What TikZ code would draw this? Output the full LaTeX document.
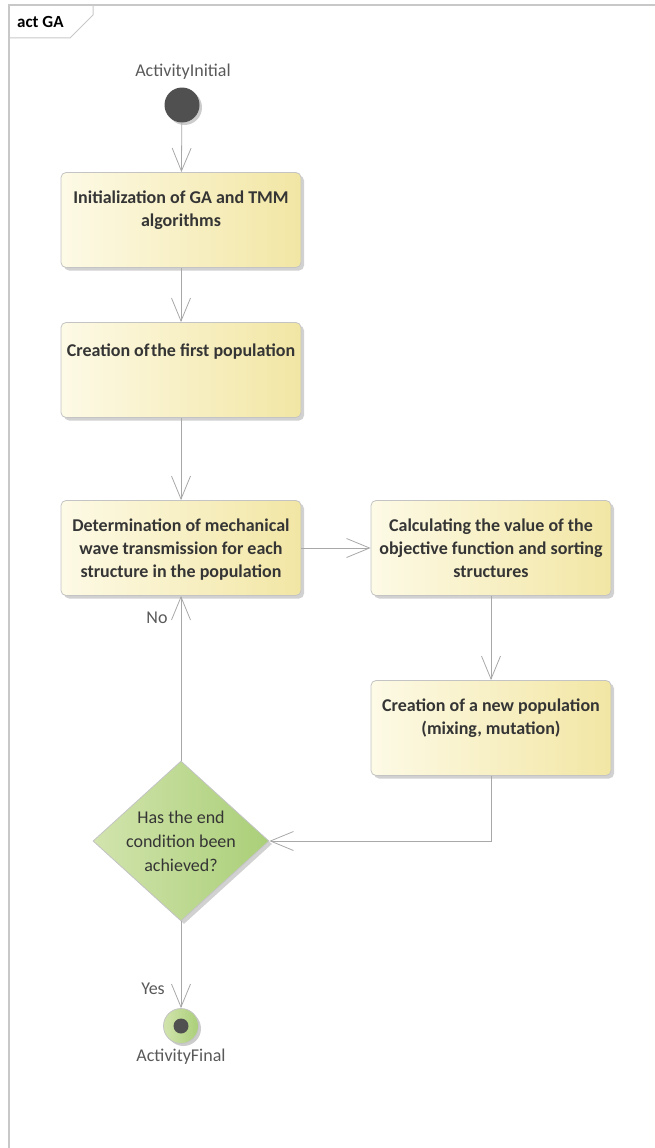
\documentclass[tikz,border=0pt]{standalone}
\usepackage{fontspec}
\setmainfont{Carlito}
\usetikzlibrary{arrows.meta,shapes.geometric,shadows,calc}
\definecolor{txtc}{HTML}{353535}
\definecolor{lblc}{HTML}{595959}
\definecolor{framec}{HTML}{C8C8C8}
\definecolor{boxborder}{HTML}{C4C4C4}
\definecolor{boxl}{HTML}{FDFAE6}
\definecolor{boxr}{HTML}{F2E6A4}
\definecolor{grl}{HTML}{D2E4AD}
\definecolor{grr}{HTML}{AACF78}
\definecolor{linec}{HTML}{A8A8A8}
\definecolor{dotc}{HTML}{505050}
\tikzset{
  actbox/.style={rectangle, rounded corners=5pt, draw=boxborder, line width=0.8pt,
    left color=boxl, right color=boxr, minimum width=240pt, minimum height=95pt,
    inner sep=0pt, drop shadow={shadow xshift=3pt, shadow yshift=-3pt, fill=black, opacity=0.18}},
  boxtxt/.style={font=\bfseries\fontsize{18}{23}\selectfont, text=txtc, align=center, anchor=north, inner sep=0pt},
  lbl/.style={font=\fontsize{18}{21}\selectfont, text=lblc, inner sep=0pt},
  flow/.style={draw=linec, line width=0.8pt, -{Straight Barb[length=23pt,width=19pt,line width=0.8pt]}},
  decision/.style={diamond, draw=boxborder, line width=0.8pt, left color=grl, right color=grr,
    minimum width=176pt, minimum height=160pt, aspect=1.1, inner sep=0pt,
    drop shadow={shadow xshift=3pt, shadow yshift=-3pt, fill=black, opacity=0.18}},
}
\begin{document}
\begin{tikzpicture}[x=1pt,y=-1pt]
\useasboundingbox (0,0) rectangle (655,1148);
% frame
\draw[framec, line width=2pt] (9,1148) -- (9,5) -- (655,5);
\draw[framec, line width=1pt] (9,38) -- (70,38) -- (93,15) -- (93,5);
\node[font=\bfseries\fontsize{17}{20}\selectfont, text=black, anchor=west, inner sep=0pt] (title) at (17,22) {act GA};

% initial
\node[circle, fill=dotc, minimum size=35pt, inner sep=0pt,
  drop shadow={shadow xshift=2.5pt, shadow yshift=-2.5pt, fill=black, opacity=0.2}] (init) at (182,105) {};
\node[lbl] (initlbl) at (183,72) {ActivityInitial};

% boxes
\node[actbox] (b1) at (181,220) {};
\node[boxtxt] (t1) at ($(b1.north)+(0,19)$) {Initialization of GA and TMM\\algorithms};
\node[actbox] (b2) at (181,370) {};
\node[boxtxt] (t2) at ($(b2.north)+(0,22)$) {Creation of\hspace{0.08em}the first population};
\node[actbox] (b3) at (181,548) {};
\node[boxtxt] (t3) at ($(b3.north)+(0,19)$) {Determination of mechanical\\wave transmission for each\\structure in the population};
\node[actbox] (b4) at (491,548) {};
\node[boxtxt] (t4) at ($(b4.north)+(0,19)$) {Calculating the value of the\\objective function and sorting\\structures};
\node[actbox] (b5) at (491,728) {};
\node[boxtxt] (t5) at ($(b5.north)+(0,19)$) {Creation of a new population\\(mixing, mutation)};

% decision
\node[decision] (dec) at (181,841) {};
\node[font=\fontsize{18}{24}\selectfont, text=txtc, align=center, inner sep=0pt] (dectxt) at (181,841) {Has the end\\condition been\\achieved?};

% final
\node[circle, draw=boxborder, line width=0.8pt, left color=grl, right color=grr, minimum size=35pt, inner sep=0pt,
  drop shadow={shadow xshift=2.5pt, shadow yshift=-2.5pt, fill=black, opacity=0.2}] (fin) at (181,1026) {};
\node[circle, fill=dotc, minimum size=15pt, inner sep=0pt] (findot) at (fin.center) {};
\node[lbl] (finlbl) at (181,1057) {ActivityFinal};

% connectors
\draw[flow] (init) -- (b1);
\draw[flow] (b1) -- (b2);
\draw[flow] (b2) -- (b3);
\draw[flow] (b3) -- (b4);
\draw[flow] (b4) -- (b5);
\draw[flow] (b5.south) |- (dec.east);
\draw[flow] (dec.north) -- (b3.south);
\draw[flow] (dec.south) -- (fin.north);
\node[lbl] (no) at (157,618) {No};
\node[lbl] (yes) at (153,989) {Yes};
\end{tikzpicture}
\end{document}
